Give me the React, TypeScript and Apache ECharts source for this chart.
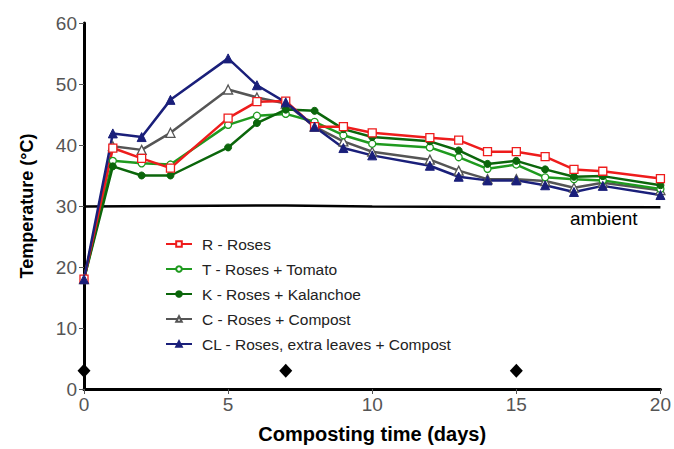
import React, { useEffect, useRef } from "react";
import * as echarts from "echarts";

const days = [0, 1, 2, 3, 5, 6, 7, 8, 9, 10, 12, 13, 14, 15, 16, 17, 18, 20];
const rosesR = [18, 39.5, 37.8, 36.2, 44.4, 47.1, 47.2, 43.0, 43.0, 42.0, 41.2, 40.8, 38.9, 38.9, 38.1, 36.0, 35.7, 34.5];
const tomatoT = [18, 37.4, 37.0, 36.8, 43.3, 44.8, 45.1, 43.8, 41.6, 40.2, 39.6, 38.0, 36.1, 36.8, 34.7, 34.4, 34.2, 32.8];
const kalanchoeK = [18, 36.5, 35.0, 35.0, 39.6, 43.6, 45.8, 45.6, 42.6, 41.3, 40.6, 39.1, 36.9, 37.4, 36.0, 34.8, 34.9, 33.4];
const compostC = [18, 39.8, 39.2, 42.0, 49.1, 47.8, 46.8, 43.0, 40.6, 38.9, 37.6, 35.8, 34.4, 34.4, 34.1, 33.0, 33.8, 32.6];
const leavesCL = [18, 41.9, 41.3, 47.4, 54.2, 49.8, 47.0, 43.0, 39.5, 38.3, 36.6, 34.8, 34.2, 34.2, 33.4, 32.3, 33.3, 31.8];

const ambientDays = [0, 7, 10, 20];
const ambientTemp = [29.9, 30.1, 29.9, 29.8];

const turningDays = [0, 7, 15];
const turningLevel = [3, 3, 3];

const seriesNames = [
  "R - Roses",
  "T - Roses + Tomato",
  "K - Roses + Kalanchoe",
  "C - Roses + Compost",
  "CL - Roses, extra leaves + Compost",
];

const FONT = "Liberation Sans, Arial, sans-serif";

function pair(xs: number[], ys: number[]) {
  return xs.map((x, i) => [x, ys[i]]);
}

export default function App() {
  const ref = useRef<HTMLDivElement>(null);
  useEffect(() => {
    if (!ref.current) return;
    const chart = echarts.init(ref.current, null, { renderer: "svg" });
    const lineSeries = (
      name: string,
      ys: number[],
      color: string,
      symbol: string,
      hollow: boolean,
      size: number
    ) => ({
      name,
      type: "line",
      data: pair(days, ys),
      symbol,
      symbolSize: size,
      showAllSymbol: true,
      lineStyle: { color, width: 2.5 },
      itemStyle: hollow
        ? { color: "#fff", borderColor: color, borderWidth: 1.3 }
        : { color, borderColor: color, borderWidth: 1 },
      z: 3,
    });
    chart.setOption({
      animation: false,
      textStyle: { fontFamily: FONT },
      grid: { left: 84, right: 10, top: 23, bottom: 55, containLabel: false },
      xAxis: {
        type: "value",
        min: 0,
        max: 20,
        interval: 5,
        name: "Composting time (days)",
        nameLocation: "middle",
        nameGap: 35,
        nameTextStyle: { fontSize: 20, fontWeight: "bold", color: "#000", fontFamily: FONT },
        axisLine: { show: true, lineStyle: { color: "#000", width: 3 } },
        axisTick: { show: true, length: 5, lineStyle: { color: "#555", width: 1 } },
        axisLabel: { fontSize: 19, color: "#555", margin: 6, fontFamily: FONT },
        splitLine: { show: false },
      },
      yAxis: {
        type: "value",
        min: 0,
        max: 60,
        interval: 10,
        name: "Temperature (°C)",
        nameLocation: "middle",
        nameGap: 48,
        nameTextStyle: { fontSize: 18, fontWeight: "bold", color: "#000", fontFamily: FONT },
        axisLine: { show: true, lineStyle: { color: "#000", width: 3 } },
        axisTick: { show: true, length: 5, lineStyle: { color: "#555", width: 1 } },
        axisLabel: { fontSize: 19, color: "#555", margin: 7, fontFamily: FONT },
        splitLine: { show: false },
      },
      legend: {
        data: seriesNames,
        orient: "vertical",
        left: 160,
        top: 231,
        itemWidth: 26,
        itemHeight: 7,
        itemGap: 9,
        textStyle: { fontSize: 15.5, color: "#222", fontFamily: FONT, padding: [0, 0, 0, 5] },
      },
      graphic: [
        {
          type: "text",
          left: 570,
          top: 209,
          style: { text: "ambient", fontSize: 19, fill: "#000", fontFamily: FONT },
        },
      ],
      series: [
        {
          name: "ambient",
          type: "line",
          data: pair(ambientDays, ambientTemp),
          symbol: "none",
          lineStyle: { color: "#000", width: 2.5 },
          z: 2,
        },
        {
          name: "turning",
          type: "scatter",
          data: pair(turningDays, turningLevel),
          symbol: "diamond",
          symbolSize: [13, 14],
          itemStyle: { color: "#000", opacity: 1 },
          z: 4,
        },
        lineSeries(seriesNames[3], compostC, "#555555", "triangle", true, 9),
        lineSeries(seriesNames[1], tomatoT, "#1f9a1f", "circle", true, 7),
        lineSeries(seriesNames[2], kalanchoeK, "#0b660b", "circle", false, 7),
        lineSeries(seriesNames[0], rosesR, "#ee1c1c", "rect", true, 8),
        lineSeries(seriesNames[4], leavesCL, "#1a1f7a", "triangle", false, 9),
      ],
    });
    return () => chart.dispose();
  }, []);
  return (
    <div
      ref={ref}
      style={{ position: "fixed", left: 0, top: 0, width: 674, height: 449, background: "#fff" }}
    />
  );
}
